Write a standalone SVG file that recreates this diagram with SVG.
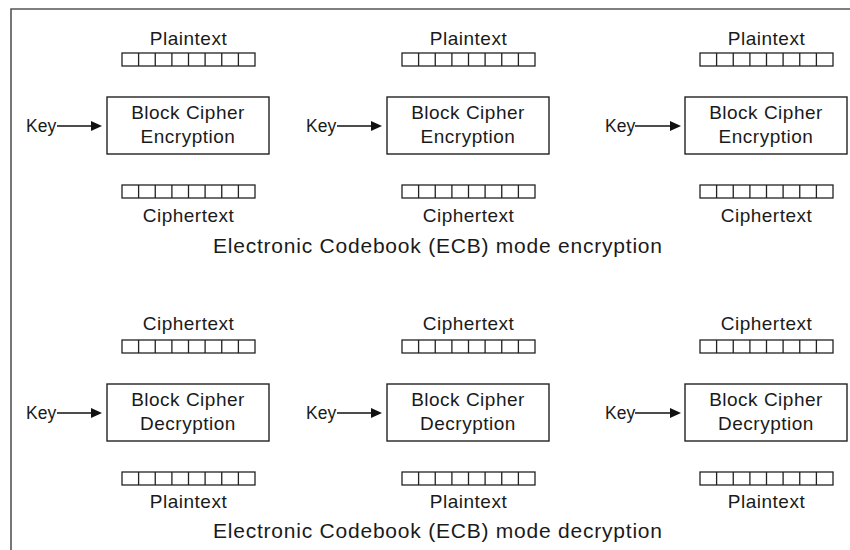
<svg xmlns="http://www.w3.org/2000/svg" xmlns:xlink="http://www.w3.org/1999/xlink" width="850" height="550" viewBox="0 0 850 550">
<style>
text{font-family:"Liberation Sans",Arial,sans-serif;fill:#1a1a1a}
.lbl{font-size:19px;letter-spacing:0.5px;text-anchor:middle}
.key{font-size:17.5px;text-anchor:start}
.cap{font-size:21px;text-anchor:middle}
.box{fill:#fff;stroke:#222;stroke-width:1.4}
.cell{fill:#fff;stroke:#222;stroke-width:1.3}
.conn{stroke:#111;stroke-width:1.5;fill:none}
.head{fill:#111}
.frame{stroke:#555;stroke-width:1.6;fill:none}
</style>
<defs>
<g id="arr">
<rect class="cell" x="0" y="0" width="133" height="13"/>
<path class="cell" d="M16.6,0V13M33.25,0V13M49.9,0V13M66.5,0V13M83.1,0V13M99.75,0V13M116.4,0V13"/>
</g>
<path id="ah" class="head" d="M-11,-5 L0,0 L-11,5 Z"/>
</defs>
<path class="frame" d="M11,551V9H851"/>
<g id="connectors">
<line class="conn" x1="57" y1="126" x2="92" y2="126"/><use xlink:href="#ah" x="102" y="126"/>
<line class="conn" x1="337" y1="126" x2="372" y2="126"/><use xlink:href="#ah" x="382" y="126"/>
<line class="conn" x1="635" y1="126" x2="671" y2="126"/><use xlink:href="#ah" x="681" y="126"/>
<line class="conn" x1="57" y1="413" x2="92" y2="413"/><use xlink:href="#ah" x="102" y="413"/>
<line class="conn" x1="337" y1="413" x2="372" y2="413"/><use xlink:href="#ah" x="382" y="413"/>
<line class="conn" x1="635" y1="413" x2="671" y2="413"/><use xlink:href="#ah" x="681" y="413"/>
</g>
<g id="enc1">
<text class="lbl" x="188.5" y="45">Plaintext</text>
<use xlink:href="#arr" x="122" y="53"/>
<text class="key" x="26" y="132">Key</text>
<rect class="box" x="107" y="97" width="162" height="57"/>
<text class="lbl" x="188" y="119">Block Cipher</text>
<text class="lbl" x="188" y="143">Encryption</text>
<use xlink:href="#arr" x="122" y="185"/>
<text class="lbl" x="188.5" y="222">Ciphertext</text>
</g>
<g id="enc2">
<text class="lbl" x="468.5" y="45">Plaintext</text>
<use xlink:href="#arr" x="402" y="53"/>
<text class="key" x="306" y="132">Key</text>
<rect class="box" x="387" y="97" width="162" height="57"/>
<text class="lbl" x="468" y="119">Block Cipher</text>
<text class="lbl" x="468" y="143">Encryption</text>
<use xlink:href="#arr" x="402" y="185"/>
<text class="lbl" x="468.5" y="222">Ciphertext</text>
</g>
<g id="enc3">
<text class="lbl" x="766.5" y="45">Plaintext</text>
<use xlink:href="#arr" x="700" y="53"/>
<text class="key" x="605" y="132">Key</text>
<rect class="box" x="685" y="97" width="162" height="57"/>
<text class="lbl" x="766" y="119">Block Cipher</text>
<text class="lbl" x="766" y="143">Encryption</text>
<use xlink:href="#arr" x="700" y="185"/>
<text class="lbl" x="766.5" y="222">Ciphertext</text>
</g>
<g id="enc-caption">
<text class="cap" x="437.5" y="253" textLength="449" lengthAdjust="spacing">Electronic Codebook (ECB) mode encryption</text>
</g>
<g id="dec1">
<text class="lbl" x="188.5" y="330">Ciphertext</text>
<use xlink:href="#arr" x="122" y="340"/>
<text class="key" x="26" y="419">Key</text>
<rect class="box" x="107" y="384" width="162" height="57"/>
<text class="lbl" x="188" y="406">Block Cipher</text>
<text class="lbl" x="188" y="430">Decryption</text>
<use xlink:href="#arr" x="122" y="472"/>
<text class="lbl" x="188.5" y="508">Plaintext</text>
</g>
<g id="dec2">
<text class="lbl" x="468.5" y="330">Ciphertext</text>
<use xlink:href="#arr" x="402" y="340"/>
<text class="key" x="306" y="419">Key</text>
<rect class="box" x="387" y="384" width="162" height="57"/>
<text class="lbl" x="468" y="406">Block Cipher</text>
<text class="lbl" x="468" y="430">Decryption</text>
<use xlink:href="#arr" x="402" y="472"/>
<text class="lbl" x="468.5" y="508">Plaintext</text>
</g>
<g id="dec3">
<text class="lbl" x="766.5" y="330">Ciphertext</text>
<use xlink:href="#arr" x="700" y="340"/>
<text class="key" x="605" y="419">Key</text>
<rect class="box" x="685" y="384" width="162" height="57"/>
<text class="lbl" x="766" y="406">Block Cipher</text>
<text class="lbl" x="766" y="430">Decryption</text>
<use xlink:href="#arr" x="700" y="472"/>
<text class="lbl" x="766.5" y="508">Plaintext</text>
</g>
<g id="dec-caption">
<text class="cap" x="437.5" y="538" textLength="449" lengthAdjust="spacing">Electronic Codebook (ECB) mode decryption</text>
</g>
</svg>
